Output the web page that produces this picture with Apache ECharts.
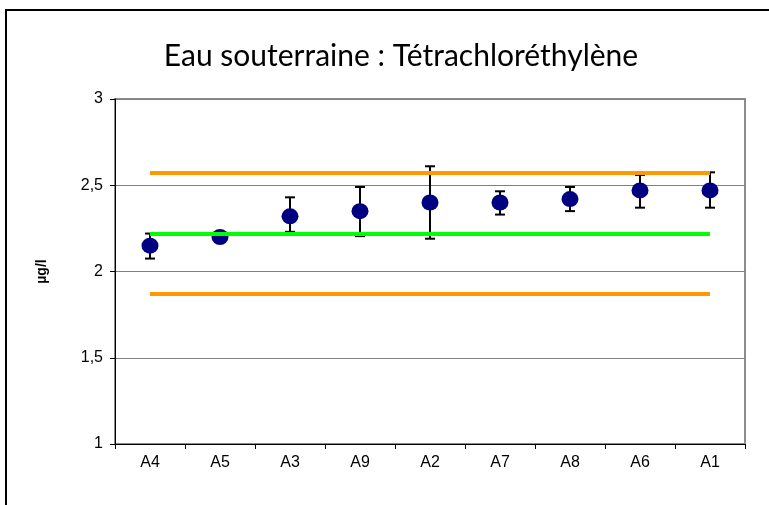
<!DOCTYPE html>
<html>
<head>
<meta charset="utf-8">
<script src="https://cdn.jsdelivr.net/npm/echarts@6/dist/echarts.min.js"></script>
<style>
  html, body { margin: 0; padding: 0; background: #ffffff; }
  #main { width: 769px; height: 505px; }
</style>
</head>
<body>
<div id="main"></div>
<script>
// labos, dans l'ordre du graphique
var categories = ['A4', 'A5', 'A3', 'A9', 'A2', 'A7', 'A8', 'A6', 'A1']
// moyennes (µg/l)
var means = [2.15, 2.20, 2.32, 2.35, 2.40, 2.40, 2.42, 2.47, 2.47]
// bornes basse / haute des barres d'erreur
var errLow = [2.075, 2.20, 2.23, 2.205, 2.19, 2.33, 2.35, 2.37, 2.37]
var errHigh = [2.22, 2.20, 2.43, 2.49, 2.61, 2.465, 2.49, 2.56, 2.575]
// valeur de référence et limites
var refValue = 2.22
var upperLimit = 2.57
var lowerLimit = 1.87

var myChart = echarts.init(document.getElementById('main'))

function limitLine (value, color) {
  return [
    { xAxis: categories[0], yAxis: value, lineStyle: { color: color } },
    { xAxis: categories[categories.length - 1], yAxis: value }
  ]
}

myChart.setOption({
  animation: false,
  backgroundColor: '#ffffff',
  title: {
    text: 'Eau souterraine : Tétrachloréthylène',
    left: 396,
    textAlign: 'center',
    top: 36,
    textStyle: { fontFamily: 'Lato', fontSize: 30, fontWeight: 'normal', color: '#000000' }
  },
  graphic: [
    {
      type: 'rect',
      shape: { x: 6, y: 10, width: 900, height: 700 },
      style: { fill: null, stroke: '#000000', lineWidth: 2 },
      silent: true
    }
  ],
  grid: {
    left: 115,
    right: 24,
    top: 99,
    bottom: 61,
    show: true,
    borderColor: '#8c8c8c',
    borderWidth: 2
  },
  xAxis: {
    type: 'category',
    data: categories,
    boundaryGap: true,
    axisLine: { lineStyle: { color: '#000000', width: 1 } },
    axisTick: { show: true, length: 5, lineStyle: { color: '#000000' } },
    axisLabel: { fontFamily: 'Liberation Sans', fontSize: 16, color: '#000000', margin: 11 },
    splitLine: { show: false }
  },
  yAxis: {
    type: 'value',
    min: 1,
    max: 3,
    interval: 0.5,
    name: 'µg/l',
    nameLocation: 'middle',
    nameGap: 66,
    nameTextStyle: { fontFamily: 'Liberation Sans', fontSize: 14, fontWeight: 'bold', color: '#000000' },
    axisLine: { show: true, lineStyle: { color: '#000000', width: 1 } },
    axisTick: { show: true, length: 5, lineStyle: { color: '#000000' } },
    axisLabel: {
      fontFamily: 'Liberation Sans',
      fontSize: 16,
      color: '#000000',
      margin: 12,
      formatter: function (v) { return String(v).replace('.', ',') }
    },
    splitLine: { show: true, lineStyle: { color: '#808080', width: 1 } }
  },
  series: [
    {
      name: 'erreur',
      type: 'custom',
      z: 2,
      data: categories.map(function (c, i) { return [i, errLow[i], errHigh[i]] }),
      renderItem: function (params, api) {
        var lo = api.coord([api.value(0), api.value(1)])
        var hi = api.coord([api.value(0), api.value(2)])
        var half = 5
        var style = { stroke: '#000000', lineWidth: 2 }
        return {
          type: 'group',
          children: [
            { type: 'line', shape: { x1: lo[0], y1: lo[1], x2: hi[0], y2: hi[1] }, style: style },
            { type: 'line', shape: { x1: lo[0] - half, y1: lo[1], x2: lo[0] + half, y2: lo[1] }, style: style },
            { type: 'line', shape: { x1: hi[0] - half, y1: hi[1], x2: hi[0] + half, y2: hi[1] }, style: style }
          ]
        }
      }
    },
    {
      name: 'limites',
      type: 'line',
      data: [],
      z: 3,
      markLine: {
        silent: true,
        symbol: 'none',
        label: { show: false },
        lineStyle: { type: 'solid', width: 4 },
        data: [
          limitLine(upperLimit, '#ff9900'),
          limitLine(refValue, '#00ff00'),
          limitLine(lowerLimit, '#ff9900')
        ]
      }
    },
    {
      name: 'moyenne',
      type: 'scatter',
      z: 4,
      symbol: 'circle',
      symbolSize: [17, 16],
      itemStyle: { color: '#000080', opacity: 1 },
      data: means
    }
  ]
})
</script>
</body>
</html>
